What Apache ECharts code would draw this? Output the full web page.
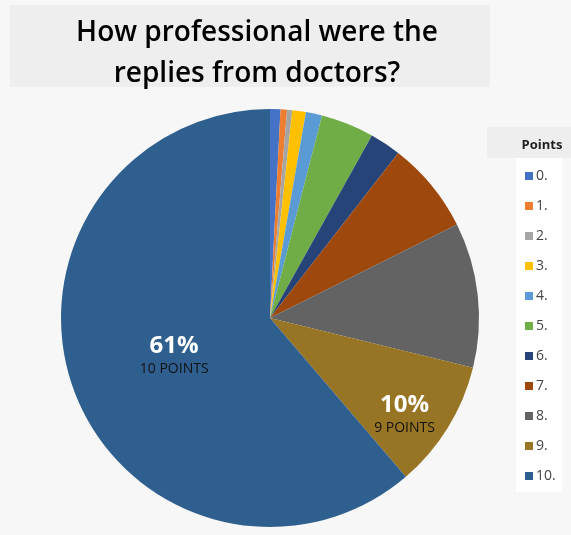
<!DOCTYPE html>
<html><head><meta charset="utf-8">
<script src="https://cdn.jsdelivr.net/npm/echarts@6/dist/echarts.min.js"></script>
<style>html,body{margin:0;padding:0;background:#fff}#c{width:571px;height:535px}</style>
</head><body><div id="c"></div>
<script>
const categories = ['0 POINTS','1 POINTS','2 POINTS','3 POINTS','4 POINTS','5 POINTS','6 POINTS','7 POINTS','8 POINTS','9 POINTS','10 POINTS'];
const shares = [0.8, 0.5, 0.4, 1.05, 1.25, 4.1, 2.4, 7.1, 11.2, 9.9, 61.2];
const colors = ['#4472C4','#ED7D31','#A5A5A5','#FFC000','#5B9BD5','#70AD47','#264478','#9E480E','#636363','#977524','#2F5F8F'];
const labelled = ['9 POINTS','10 POINTS'];

const chart = echarts.init(document.getElementById('c'));
const total = shares.reduce((a,b)=>a+b,0);
const data = categories.map((n,i)=>{
  const d = {name:n, value:shares[i], itemStyle:{color:colors[i]}};
  if (labelled.indexOf(n) < 0) d.label = {show:false};
  if (n === '9 POINTS') d.label = {show:true, offset:[43,40]};
  if (n === '10 POINTS') d.label = {show:true, offset:[5,0]};
  return d;
});
chart.setOption({
  backgroundColor:'#f7f7f7',
  graphic:[
    {type:'rect', shape:{x:10,y:5,width:480,height:82}, style:{fill:'#eeeeee'}, silent:true},
    {type:'rect', shape:{x:487,y:127,width:84,height:31}, style:{fill:'#eeeeee'}, silent:true},
    {type:'rect', shape:{x:516,y:158,width:46,height:334}, style:{fill:'#ffffff'}, silent:true}
  ],
  title:[
    {text:'How professional were the\nreplies from doctors?', left:252, top:8, textAlign:'center',
     textStyle:{fontFamily:'Open Sans', fontWeight:600, fontSize:28, lineHeight:41, color:'#000'}},
    {text:'Points', left:537, top:134, textAlign:'center',
     textStyle:{fontFamily:'Open Sans', fontWeight:'bold', fontSize:13, color:'#222'}}
  ],
  legend:{
    orient:'vertical', left:520, top:164, itemWidth:8, itemHeight:8, itemGap:16,
    icon:'rect',
    formatter: n => n.split(' ')[0] + '.',
    textStyle:{fontFamily:'Open Sans', fontSize:14, color:'#444', padding:[0,0,0,-2]},
    data: categories
  },
  series:[{
    type:'pie', center:[270,318], radius:209, startAngle:90, clockwise:true,
    avoidLabelOverlap:false, silent:true,
    label:{show:true, position:'inside',
      formatter: p => '{p|' + Math.round(p.value/total*100) + '%}\n{n|' + p.name + '}',
      rich:{
        p:{fontFamily:'Open Sans', fontWeight:'bold', fontSize:24, color:'#fff', lineHeight:28},
        n:{fontFamily:'Open Sans', fontSize:14, color:'#111', lineHeight:18}
      }},
    labelLine:{show:false},
    data:data
  }]
});
</script></body></html>
